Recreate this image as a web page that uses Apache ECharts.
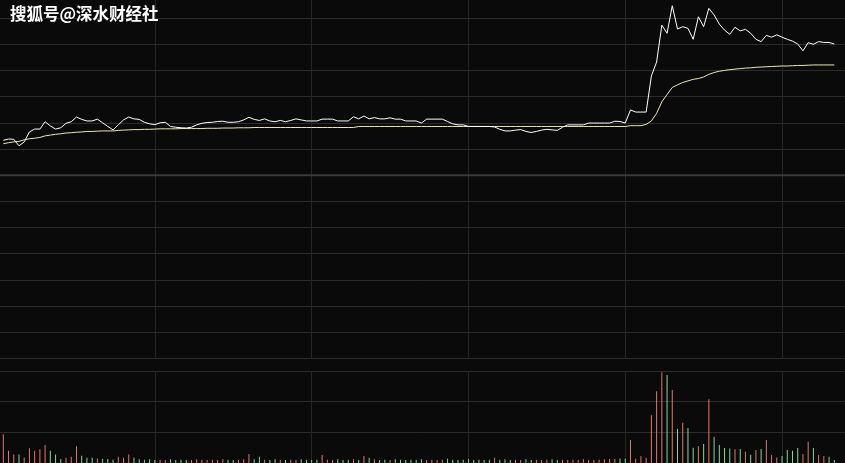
<!DOCTYPE html>
<html>
<head>
<meta charset="utf-8">
<script src="https://cdn.jsdelivr.net/npm/echarts@6/dist/echarts.min.js"></script>
<style>
html,body{margin:0;padding:0;background:#0a0a0a;}
#c{width:845px;height:463px;}
</style>
</head>
<body>
<div id="c"></div>
<script>
// price change (% vs previous close)
var pricePct = [
1.33,1.38,1.37,1.12,1.27,1.65,1.76,1.76,2.04,1.88,
1.76,1.81,1.98,2.04,2.22,2.13,2.07,2.07,2.14,2.00,
1.86,1.73,1.92,2.11,2.22,2.15,2.13,2.02,1.96,1.93,
2.00,2.02,1.86,1.83,1.81,1.80,1.83,1.92,1.98,2.01,
2.02,2.05,2.06,2.02,2.02,2.04,2.11,2.21,2.13,2.09,
2.15,2.07,2.04,2.09,2.04,2.09,2.15,2.11,2.07,2.07,
2.07,2.14,2.14,2.14,2.07,2.07,2.07,2.23,2.15,2.26,
2.15,2.20,2.15,2.15,2.19,2.14,2.14,2.07,2.07,2.07,
1.99,2.14,2.14,2.14,2.14,2.05,1.96,1.92,1.92,1.86,
1.86,1.86,1.86,1.86,1.84,1.75,1.69,1.69,1.72,1.74,
1.67,1.63,1.67,1.72,1.75,1.73,1.71,1.83,1.92,1.92,
1.92,1.92,1.99,1.99,1.99,1.99,1.99,2.06,2.05,1.99,
2.49,2.41,2.41,2.41,3.79,4.32,5.73,5.42,6.47,5.58,
5.67,5.61,5.19,6.05,5.67,6.37,6.12,5.77,5.54,5.38,
5.65,5.51,5.57,5.42,5.19,5.10,5.34,5.27,5.36,5.27,
5.19,5.12,5.01,4.75,5.06,5.00,5.10,5.07,5.07,5.01
];
// average price (% vs previous close)
var avgPct = [
1.20,1.24,1.27,1.29,1.35,1.39,1.41,1.44,1.50,1.53,
1.56,1.58,1.61,1.62,1.64,1.65,1.67,1.67,1.68,1.69,
1.69,1.69,1.71,1.72,1.73,1.74,1.74,1.75,1.75,1.76,
1.77,1.77,1.77,1.77,1.78,1.78,1.78,1.78,1.78,1.79,
1.79,1.79,1.80,1.80,1.80,1.81,1.81,1.81,1.82,1.82,
1.82,1.82,1.82,1.82,1.82,1.82,1.82,1.82,1.82,1.82,
1.82,1.82,1.82,1.82,1.82,1.82,1.82,1.82,1.86,1.86,
1.86,1.86,1.86,1.86,1.86,1.86,1.86,1.86,1.86,1.86,
1.86,1.86,1.86,1.86,1.86,1.86,1.86,1.86,1.86,1.86,
1.86,1.86,1.86,1.86,1.86,1.86,1.86,1.86,1.86,1.86,
1.86,1.86,1.86,1.86,1.86,1.86,1.86,1.86,1.86,1.86,
1.86,1.86,1.86,1.86,1.86,1.86,1.86,1.86,1.86,1.86,
1.89,1.89,1.89,1.94,2.07,2.36,2.80,3.08,3.35,3.45,
3.54,3.60,3.66,3.69,3.75,3.85,3.92,3.97,4.00,4.03,
4.05,4.07,4.09,4.10,4.12,4.13,4.14,4.15,4.16,4.17,
4.17,4.18,4.19,4.19,4.20,4.21,4.21,4.21,4.21,4.21
];
// volume (relative units)
var volume = [
94,40,28,28,18,48,40,45,59,40,
28,13,17,20,55,24,17,17,15,13,
13,11,20,17,28,17,12,11,12,10,
11,10,12,10,11,10,10,12,11,10,
11,10,12,11,10,11,12,29,12,20,
11,10,12,11,10,11,10,12,11,10,
11,26,11,10,12,10,11,12,10,23,
17,12,10,11,10,12,11,10,11,10,
12,10,11,10,11,14,11,10,11,13,
10,11,10,11,17,11,12,10,11,10,
12,10,11,10,11,12,10,11,10,11,
10,12,11,10,11,12,13,13,15,14,
75,14,22,17,156,234,296,287,238,111,
131,114,50,55,62,208,85,59,49,47,
45,46,37,27,42,46,75,26,18,23,
42,40,49,29,69,49,26,23,20,10
];
// 1 = up (red), 0 = down (green)
var volUp = [
1,1,1,0,1,1,1,1,1,0,
0,0,1,1,1,0,0,0,1,0,
0,0,1,1,1,0,0,0,0,0,
1,1,0,0,0,0,1,1,1,1,
1,1,1,0,0,1,1,1,0,0,
1,0,0,1,0,1,1,0,0,0,
0,1,1,1,0,0,0,1,0,1,
0,1,0,0,1,0,0,0,0,0,
0,1,1,1,1,0,0,0,0,0,
0,0,0,0,1,0,0,0,1,1,
0,0,1,1,1,0,0,1,1,1,
1,1,1,1,1,1,1,1,0,0,
1,1,1,1,1,1,1,0,1,0,
1,0,0,1,0,1,0,0,0,0,
1,0,1,0,1,0,1,1,1,0,
0,0,0,1,1,0,1,1,0,0
];
var categories = pricePct.map(function(_, i){ return String(i); });

var chart = echarts.init(document.getElementById('c'), null, {renderer:'canvas'});
var vGrid = function(idx){ return idx % 30 === 29; };
var hidden = { axisLine: {show:false}, axisTick: {show:false}, axisLabel: {show:false} };
function ax(o){ return Object.assign({}, hidden, o); }
var option = {
  backgroundColor: '#0a0a0a',
  animation: false,
  graphic: [{
    type: 'text', left: 10, top: 5, z: 100,
    style: { text: '搜狐号@深水财经社', fill: '#ffffff', font: 'bold 16.5px "Noto Sans CJK SC"',
      shadowColor: 'rgba(0,0,0,0.6)', shadowBlur: 2 }
  }],
  grid: [
    { left: 3.3, right: 10.7, top: -8.1, height: 366.5, outerBoundsMode: 'none' },
    { left: 3.3, right: 10.7, top: 371, height: 92, outerBoundsMode: 'none' },
    { left: 0, right: 0, top: 18.1, height: 340.3, outerBoundsMode: 'none' },
    { left: 0, right: 0, top: 371, height: 92, outerBoundsMode: 'none' }
  ],
  xAxis: [
    ax({ type: 'category', gridIndex: 0, data: categories, boundaryGap: false,
      splitLine: { show: true, interval: vGrid, lineStyle: { color: '#262626', width: 1 } } }),
    ax({ type: 'category', gridIndex: 1, data: categories, boundaryGap: false,
      splitLine: { show: true, interval: vGrid, lineStyle: { color: '#262626', width: 1 } } }),
    ax({ type: 'value', gridIndex: 2, min: 0, max: 1, splitLine: {show:false} }),
    ax({ type: 'value', gridIndex: 3, min: 0, max: 1, splitLine: {show:false} })
  ],
  yAxis: [
    ax({ type: 'value', gridIndex: 0, min: -7, max: 7, interval: 1, splitLine: {show:false} }),
    ax({ type: 'value', gridIndex: 1, min: 0, max: 300, interval: 100, splitLine: {show:false} }),
    ax({ type: 'value', gridIndex: 2, min: -7, max: 6, interval: 1,
      splitLine: { show: true, lineStyle: { color: '#2c2c2c', width: 1 } } }),
    ax({ type: 'value', gridIndex: 3, min: 0, max: 300, interval: 100,
      splitLine: { show: true, lineStyle: { color: '#2c2c2c', width: 1 } } })
  ],
  series: [
    { type: 'line', name: 'prevClose', xAxisIndex: 2, yAxisIndex: 2, data: [[0, 0], [1, 0]],
      silent: true, showSymbol: false, symbol: 'none', lineStyle: { color: '#3a3a3a', width: 2 } },
    { type: 'line', name: 'avg', xAxisIndex: 0, yAxisIndex: 0, data: avgPct, clip: false,
      showSymbol: false, symbol: 'none', lineStyle: { color: '#efe6b4', width: 1 } },
    { type: 'line', name: 'price', xAxisIndex: 0, yAxisIndex: 0, data: pricePct, clip: false,
      showSymbol: false, symbol: 'none', lineStyle: { color: '#ffffff', width: 1 } },
    { type: 'bar', name: 'vol', xAxisIndex: 1, yAxisIndex: 1, barWidth: 1,
      data: volume.map(function(v, i){
        return { value: v, itemStyle: { color: volUp[i] ? '#e0786a' : '#84d8a0' } };
      }) }
  ]
};
chart.setOption(option);
</script>
</body>
</html>
